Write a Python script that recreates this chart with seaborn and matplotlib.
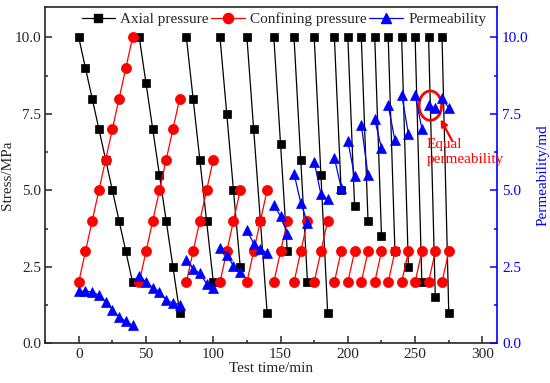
import numpy as np
import pandas as pd
import matplotlib
matplotlib.use('Agg')
import matplotlib.pyplot as plt
import seaborn as sns
from matplotlib.lines import Line2D
from matplotlib.patches import Ellipse
from matplotlib.ticker import MultipleLocator

# ----------------------------------------------------------------------------
# Data, one sub-list per loading cycle
# ----------------------------------------------------------------------------
cycle_times = [
    [0, 5, 10, 15, 20, 25, 30, 35, 40],
    [45, 50, 55, 60, 65, 70, 75],
    [80, 85, 90, 95, 100],
    [105, 110, 115, 120],
    [125, 130, 135, 140],
    [145, 150, 155],
    [160, 165, 170],
    [175, 180, 185],
    [190, 195], [200, 205], [210, 215], [220, 225], [230, 235],
    [240, 245], [250, 255], [260, 265], [270, 275],
]

axial_pressure = [
    [10, 9, 8, 7, 6, 5, 4, 3, 2],
    [10, 8.5, 7, 5.5, 4, 2.5, 1],
    [10, 8, 6, 4, 2],
    [10, 7.5, 5, 2.5],
    [10, 7, 4, 1],
    [10, 6.5, 3],
    [10, 6, 2],
    [10, 5.5, 1],
    [10, 5], [10, 4.5], [10, 4], [10, 3.5], [10, 3],
    [10, 2.5], [10, 2], [10, 1.5], [10, 1],
]

confining_pressure = [
    [2, 3, 4, 5, 6, 7, 8, 9, 10],
    [2, 3, 4, 5, 6, 7, 8],
    [2, 3, 4, 5, 6],
    [2, 3, 4, 5],
    [2, 3, 4, 5],
    [2, 3, 4],
    [2, 3, 4],
    [2, 3, 4],
    [2, 3], [2, 3], [2, 3], [2, 3], [2, 3],
    [2, 3], [2, 3], [2, 3], [2, 3],
]

permeability = [
    [1.70, 1.70, 1.68, 1.57, 1.35, 1.10, 0.85, 0.72, 0.58],
    [2.20, 2.00, 1.82, 1.68, 1.40, 1.32, 1.26],
    [2.71, 2.44, 2.28, 1.95, 1.81],
    [3.11, 2.88, 2.53, 2.33],
    [3.69, 3.26, 3.07, 2.96],
    [4.51, 4.16, 3.58],
    [5.55, 4.59, 3.94],
    [5.93, 4.87, 4.71],
    [6.06, 5.09], [6.61, 5.47], [7.15, 5.49], [7.32, 6.38], [7.78, 6.63],
    [8.13, 6.85], [8.13, 7.02], [7.78, 7.69], [8.02, 7.69],
]

rows = []
for c, t in enumerate(cycle_times):
    for i in range(len(t)):
        rows.append({'cycle': c, 'time': t[i],
                     'axial': axial_pressure[c][i],
                     'confining': confining_pressure[c][i],
                     'perm': permeability[c][i]})
df = pd.DataFrame(rows)

# ----------------------------------------------------------------------------
# Style
# ----------------------------------------------------------------------------
FS = 11
sns.set_style('ticks')
plt.rcParams['font.family'] = ['Liberation Serif', 'DejaVu Serif']
plt.rcParams['font.size'] = FS
plt.rcParams['axes.linewidth'] = 1.2

fig, ax = plt.subplots(figsize=(5.5, 3.83), dpi=100)
fig.subplots_adjust(left=0.082, right=0.904, top=0.982, bottom=0.104)

line_kw = dict(units='cycle', estimator=None, sort=False, linewidth=0.9)

sns.lineplot(data=df, x='time', y='axial', ax=ax, color='black',
             marker='s', markersize=6.3, markeredgecolor='black',
             markeredgewidth=0.5, **line_kw)
sns.lineplot(data=df, x='time', y='confining', ax=ax, color='red',
             marker='o', markersize=7.3, markeredgecolor='red',
             markeredgewidth=0.5, **line_kw)

ax2 = ax.twinx()
sns.lineplot(data=df, x='time', y='perm', ax=ax2, color='blue',
             marker='^', markersize=7.8, markeredgecolor='blue',
             markeredgewidth=0.5, **line_kw)

# axes
ax.set_xlim(-25, 311)
ax.set_ylim(0, 11)
ax2.set_ylim(0, 11)
ax.xaxis.set_major_locator(MultipleLocator(50))
ax.xaxis.set_minor_locator(MultipleLocator(25))
ax.yaxis.set_major_locator(MultipleLocator(2.5))
ax.yaxis.set_minor_locator(MultipleLocator(1.25))
ax2.yaxis.set_major_locator(MultipleLocator(2.5))
ax2.yaxis.set_minor_locator(MultipleLocator(1.25))

ax.tick_params(which='both', direction='in', width=1.1, labelsize=FS)
ax.tick_params(which='major', length=5)
ax.tick_params(which='minor', length=2.5)
ax.tick_params(axis='y', right=False, pad=3)
ax2.tick_params(which='both', direction='in', width=1.1, colors='blue', labelsize=FS)
ax2.tick_params(which='major', length=5)
ax2.tick_params(which='minor', length=2.5)

ax.spines['right'].set_visible(False)
ax2.spines['right'].set_color('blue')
for s in ['left', 'top', 'bottom']:
    ax2.spines[s].set_visible(False)

ax.set_xlabel('Test time/min', fontsize=FS, labelpad=1)
ax.set_ylabel('Stress/MPa', fontsize=FS)
ax2.set_ylabel('Permeability/md', fontsize=FS, color='blue')
ax.yaxis.set_label_coords(-0.068, 0.5)
ax2.yaxis.set_label_coords(1.086, 0.5)

# equal permeability annotation
ax2.add_patch(Ellipse((261.3, 7.77), width=16.7, height=0.96,
                      fill=False, edgecolor='red', linewidth=2))
ax2.annotate('', xy=(269, 7.32), xytext=(277.5, 6.62),
             arrowprops=dict(arrowstyle='-|>', color='red', lw=1.6,
                             mutation_scale=10, shrinkA=0, shrinkB=0))
ax2.text(258.5, 6.7, 'Equal\npermeability', color='red', fontsize=FS,
         ha='left', va='top', linespacing=1.15)

# legend
handles = [
    Line2D([], [], color='black', marker='s', markersize=6.3, lw=0.9),
    Line2D([], [], color='red', marker='o', markersize=7.3, lw=0.9),
    Line2D([], [], color='blue', marker='^', markersize=7.8, lw=0.9),
]
labels = ['Axial pressure', 'Confining pressure', 'Permeability']
ax2.legend(handles, labels, loc='center', bbox_to_anchor=(0.528, 0.964),
           ncol=3, frameon=False, fontsize=FS, handlelength=2.2,
           handletextpad=0.35, columnspacing=0.15, borderpad=0.1)

fig.savefig('out.png', dpi=100, facecolor='white')
